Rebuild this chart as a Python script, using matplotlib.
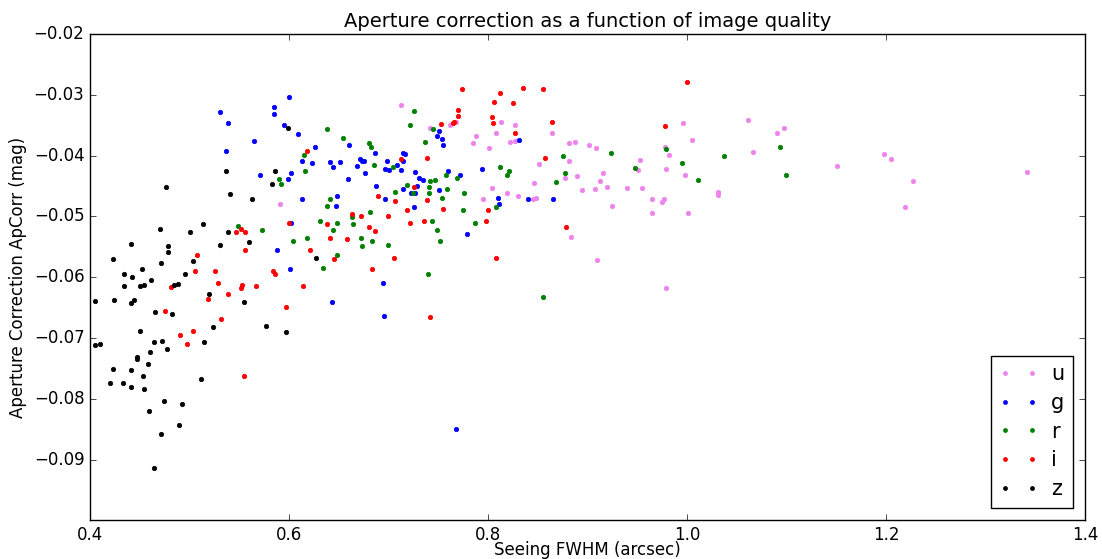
import matplotlib
matplotlib.use("Agg")
import matplotlib.pyplot as plt

# Seeing FWHM (arcsec) and aperture correction (mag) per filter
u_fwhm = [0.591, 0.713, 0.742, 0.762, 0.768, 0.813, 0.827, 0.808, 0.864, 0.788,
          0.785, 0.801, 0.822, 0.827, 0.881, 0.887, 0.902, 0.909, 0.953, 0.881,
          0.851, 0.951, 0.916, 0.889, 0.877, 0.913, 0.846, 0.804, 0.894, 0.920,
          0.908, 0.940, 0.955, 0.819, 0.830, 0.845, 0.848, 0.795, 0.925, 0.883,
          0.910, 0.996, 1.061, 1.090, 1.097, 1.005, 0.978, 0.982, 1.066, 1.151,
          0.979, 0.998, 0.965, 0.977, 0.975, 1.031, 1.031, 0.965, 1.001, 0.979,
          1.198, 1.205, 1.227, 1.219, 1.342]
u_apcorr = [-0.0479, -0.0317, -0.0354, -0.0350, -0.0344, -0.0344, -0.0349, -0.0362, -0.0362, -0.0367,
            -0.0380, -0.0387, -0.0378, -0.0376, -0.0380, -0.0378, -0.0383, -0.0387, -0.0407, -0.0409,
            -0.0413, -0.0423, -0.0428, -0.0434, -0.0436, -0.0442, -0.0445, -0.0454, -0.0457, -0.0452,
            -0.0455, -0.0454, -0.0454, -0.0462, -0.0466, -0.0471, -0.0469, -0.0472, -0.0482, -0.0533,
            -0.0571, -0.0347, -0.0341, -0.0362, -0.0354, -0.0374, -0.0386, -0.0399, -0.0394, -0.0417,
            -0.0422, -0.0431, -0.0472, -0.0471, -0.0477, -0.0459, -0.0464, -0.0494, -0.0494, -0.0617,
            -0.0397, -0.0405, -0.0442, -0.0484, -0.0427]

g_fwhm = [0.537, 0.571, 0.599, 0.588, 0.601, 0.600, 0.585, 0.585, 0.595, 0.609,
          0.626, 0.660, 0.686, 0.613, 0.623, 0.641, 0.644, 0.651, 0.668, 0.671,
          0.673, 0.675, 0.676, 0.698, 0.696, 0.701, 0.709, 0.713, 0.715, 0.717,
          0.715, 0.602, 0.659, 0.687, 0.727, 0.731, 0.735, 0.715, 0.723, 0.727,
          0.729, 0.751, 0.754, 0.749, 0.755, 0.760, 0.772, 0.751, 0.613, 0.648,
          0.647, 0.696, 0.726, 0.779, 0.602, 0.694, 0.643, 0.695, 0.768, 0.831,
          0.794, 0.810, 0.811, 0.840, 0.865, 0.531, 0.539, 0.565]
g_apcorr = [-0.0392, -0.0431, -0.0439, -0.0555, -0.0587, -0.0304, -0.0320, -0.0331, -0.0349, -0.0365,
            -0.0386, -0.0382, -0.0395, -0.0409, -0.0412, -0.0410, -0.0419, -0.0410, -0.0417, -0.0405,
            -0.0409, -0.0409, -0.0428, -0.0409, -0.0422, -0.0423, -0.0415, -0.0424, -0.0395, -0.0397,
            -0.0409, -0.0428, -0.0439, -0.0450, -0.0427, -0.0437, -0.0440, -0.0455, -0.0462, -0.0462,
            -0.0450, -0.0359, -0.0372, -0.0367, -0.0382, -0.0425, -0.0431, -0.0457, -0.0472, -0.0467,
            -0.0482, -0.0472, -0.0485, -0.0529, -0.0511, -0.0610, -0.0640, -0.0663, -0.0850, -0.0374,
            -0.0422, -0.0470, -0.0479, -0.0471, -0.0471, -0.0329, -0.0347, -0.0376]

r_fwhm = [0.590, 0.592, 0.549, 0.573, 0.726, 0.722, 0.638, 0.654, 0.680, 0.682,
          0.737, 0.745, 0.615, 0.616, 0.685, 0.705, 0.719, 0.707, 0.725, 0.742,
          0.747, 0.741, 0.741, 0.758, 0.769, 0.759, 0.754, 0.776, 0.775, 0.641,
          0.638, 0.681, 0.663, 0.664, 0.631, 0.648, 0.644, 0.744, 0.749, 0.752,
          0.672, 0.683, 0.673, 0.699, 0.618, 0.604, 0.648, 0.634, 0.740, 0.924,
          0.875, 0.948, 0.812, 0.821, 0.819, 0.877, 0.868, 0.808, 0.787, 0.855,
          0.979, 0.995, 1.037, 1.093, 1.099, 1.011]
r_apcorr = [-0.0439, -0.0446, -0.0515, -0.0522, -0.0326, -0.0350, -0.0357, -0.0371, -0.0380, -0.0386,
            -0.0378, -0.0356, -0.0399, -0.0426, -0.0415, -0.0419, -0.0449, -0.0459, -0.0461, -0.0442,
            -0.0440, -0.0452, -0.0462, -0.0431, -0.0436, -0.0455, -0.0470, -0.0462, -0.0489, -0.0471,
            -0.0482, -0.0492, -0.0501, -0.0512, -0.0508, -0.0511, -0.0522, -0.0508, -0.0522, -0.0540,
            -0.0535, -0.0540, -0.0548, -0.0547, -0.0535, -0.0540, -0.0563, -0.0584, -0.0595, -0.0395,
            -0.0400, -0.0420, -0.0419, -0.0426, -0.0432, -0.0429, -0.0444, -0.0485, -0.0511, -0.0633,
            -0.0389, -0.0412, -0.0400, -0.0386, -0.0431, -0.0440]

i_fwhm = [0.547, 0.552, 0.556, 0.556, 0.600, 0.508, 0.506, 0.526, 0.584, 0.586,
          0.481, 0.529, 0.553, 0.552, 0.567, 0.539, 0.519, 0.597, 0.475, 0.532,
          0.504, 0.490, 0.497, 0.555, 0.774, 0.770, 0.770, 0.765, 0.766, 0.753,
          0.618, 0.713, 0.739, 0.726, 0.689, 0.707, 0.739, 0.719, 0.755, 0.699,
          0.663, 0.672, 0.638, 0.680, 0.686, 0.722, 0.736, 0.641, 0.658, 0.621,
          0.645, 0.706, 0.683, 0.614, 0.742, 0.812, 0.835, 0.855, 0.806, 0.825,
          0.804, 0.805, 0.827, 0.864, 0.857, 0.800, 0.798, 0.878, 0.808, 1.000,
          0.978]
i_apcorr = [-0.0525, -0.0520, -0.0526, -0.0555, -0.0510, -0.0563, -0.0589, -0.0589, -0.0590, -0.0595,
            -0.0616, -0.0610, -0.0613, -0.0618, -0.0614, -0.0628, -0.0635, -0.0648, -0.0655, -0.0668,
            -0.0688, -0.0695, -0.0710, -0.0762, -0.0291, -0.0325, -0.0334, -0.0346, -0.0344, -0.0348,
            -0.0392, -0.0405, -0.0404, -0.0452, -0.0467, -0.0475, -0.0473, -0.0490, -0.0487, -0.0499,
            -0.0496, -0.0500, -0.0512, -0.0518, -0.0524, -0.0510, -0.0507, -0.0535, -0.0537, -0.0555,
            -0.0570, -0.0568, -0.0587, -0.0615, -0.0665, -0.0297, -0.0289, -0.0291, -0.0311, -0.0314,
            -0.0336, -0.0346, -0.0362, -0.0344, -0.0404, -0.0489, -0.0508, -0.0517, -0.0568, -0.0279,
            -0.0351]

z_fwhm = [0.537, 0.476, 0.541, 0.563, 0.586, 0.583, 0.514, 0.470, 0.501, 0.539,
          0.560, 0.531, 0.441, 0.478, 0.478, 0.423, 0.504, 0.471, 0.452, 0.434,
          0.495, 0.442, 0.461, 0.434, 0.450, 0.454, 0.484, 0.488, 0.520, 0.405,
          0.424, 0.441, 0.444, 0.555, 0.465, 0.482, 0.450, 0.524, 0.577, 0.597,
          0.405, 0.410, 0.464, 0.472, 0.477, 0.460, 0.515, 0.447, 0.447, 0.458,
          0.423, 0.441, 0.453, 0.512, 0.420, 0.433, 0.441, 0.454, 0.474, 0.492,
          0.459, 0.489, 0.471, 0.464, 0.599, 0.627]
z_apcorr = [-0.0426, -0.0452, -0.0463, -0.0471, -0.0426, -0.0447, -0.0512, -0.0520, -0.0526, -0.0526,
            -0.0542, -0.0547, -0.0545, -0.0548, -0.0558, -0.0570, -0.0574, -0.0577, -0.0587, -0.0595,
            -0.0594, -0.0600, -0.0605, -0.0615, -0.0615, -0.0612, -0.0612, -0.0611, -0.0627, -0.0639,
            -0.0637, -0.0642, -0.0637, -0.0641, -0.0657, -0.0660, -0.0688, -0.0682, -0.0680, -0.0690,
            -0.0712, -0.0709, -0.0707, -0.0705, -0.0718, -0.0722, -0.0707, -0.0731, -0.0735, -0.0743,
            -0.0750, -0.0753, -0.0762, -0.0767, -0.0773, -0.0773, -0.0781, -0.0783, -0.0803, -0.0808,
            -0.0820, -0.0843, -0.0857, -0.0913, -0.0355, -0.0568]

bands = ['u', 'g', 'r', 'i', 'z']
colors = ['violet', 'b', 'g', 'r', 'k']
fwhm = [u_fwhm, g_fwhm, r_fwhm, i_fwhm, z_fwhm]
apcorr = [u_apcorr, g_apcorr, r_apcorr, i_apcorr, z_apcorr]

plt.style.use('classic')
fig = plt.figure(figsize=(11.02, 5.59), dpi=100, facecolor='white')
ax = fig.add_axes([90 / 1102, 1 - 520 / 559, 995 / 1102, 486 / 559])

for band, c, x, y in zip(bands, colors, fwhm, apcorr):
    ax.plot(x, y, 'o', color=c, markeredgecolor=c, markersize=3.2,
            markeredgewidth=0.5, label=band)

ax.set_xlim(0.4, 1.4)
ax.set_ylim(-0.0999, -0.02)
ax.set_xticks([0.4, 0.6, 0.8, 1.0, 1.2, 1.4])
ax.set_yticks([-0.09, -0.08, -0.07, -0.06, -0.05, -0.04, -0.03, -0.02])
ax.tick_params(labelsize=12)

ax.set_title("Aperture correction as a function of image quality", fontsize=14)
ax.set_xlabel("Seeing FWHM (arcsec)", fontsize=12, labelpad=-2)
ax.set_ylabel("Aperture Correction ApCorr (mag)", fontsize=12)

ax.legend(loc='lower right', numpoints=2, fontsize=15, markerscale=0.9,
          handlelength=1.9, handletextpad=0.6, borderaxespad=0.6,
          labelspacing=0.42)

plt.savefig("out.png", dpi=100, facecolor='white')
